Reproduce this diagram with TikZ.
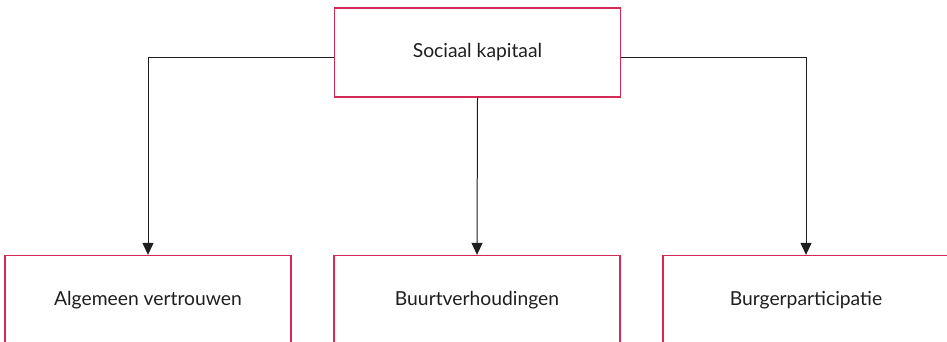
\documentclass[tikz,border=0pt]{standalone}
\usepackage{fontspec}
\setmainfont{Lato}
\usetikzlibrary{arrows.meta,positioning}
\definecolor{kaderrood}{HTML}{D42A55}
\definecolor{lijngrijs}{HTML}{1E1E1E}

\begin{document}
\begin{tikzpicture}[x=1pt,y=-1pt,>={Triangle[width=11pt,length=12pt]},
  every node/.style={rectangle,draw=kaderrood,line width=1.3pt,
    minimum width=286pt,minimum height=89pt,inner sep=0pt,
    font=\fontsize{19.3}{22}\selectfont,text=lijngrijs}]
  \useasboundingbox (0,0) rectangle (947,342);
  \clip (0,0) rectangle (947,342);
  \node (kap) at (477.5,52.5) {Sociaal kapitaal};
  \node (alg) at (148,300) {Algemeen vertrouwen};
  \node (buurt) at (477,300) {Buurtverhoudingen};
  \node (burger) at (806,300) {Burgerparticipatie};

  % zijtakken vanaf het bovenste kader
  \foreach \a/\b in {west/alg,east/burger} {
    \draw[->,draw=lijngrijs,line width=1pt] ([yshift=-5pt]kap.\a) -| (\b.north);
  }
  \draw[->,draw=lijngrijs,line width=1pt] (kap.south) -- (buurt.north);
\end{tikzpicture}
\end{document}
